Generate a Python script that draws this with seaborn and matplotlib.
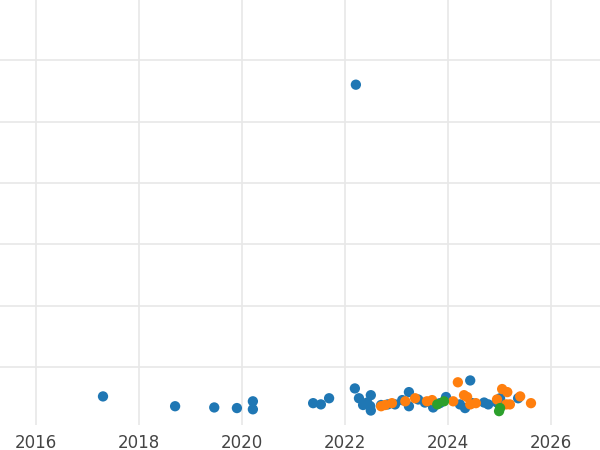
import matplotlib
matplotlib.use("Agg")
import matplotlib.pyplot as plt
import seaborn as sns
import pandas as pd

blue_year = [2017.30, 2018.70, 2019.46, 2019.90, 2020.21, 2020.21, 2021.38, 2021.53, 2021.69,
             2022.19, 2022.21, 2022.27, 2022.35, 2022.43, 2022.49, 2022.50, 2022.50, 2022.70,
             2022.83, 2022.97, 2023.11, 2023.24, 2023.24, 2023.42, 2023.55, 2023.71, 2023.84,
             2023.96, 2024.23, 2024.33, 2024.43, 2024.47, 2024.70, 2024.78, 2024.95, 2025.01,
             2025.36]
blue_val = [0.52, 0.36, 0.34, 0.33, 0.44, 0.31, 0.41, 0.39, 0.49,
            0.65, 5.60, 0.49, 0.38, 0.42, 0.36, 0.29, 0.54, 0.38,
            0.39, 0.39, 0.46, 0.59, 0.36, 0.47, 0.42, 0.34, 0.41,
            0.51, 0.39, 0.33, 0.78, 0.41, 0.42, 0.39, 0.42, 0.49,
            0.49]
orange_year = [2022.70, 2022.78, 2022.91, 2023.17, 2023.36, 2023.59, 2023.69, 2024.10, 2024.19,
               2024.31, 2024.37, 2024.43, 2024.54, 2024.95, 2025.05, 2025.13, 2025.15, 2025.20,
               2025.40, 2025.61]
orange_val = [0.36, 0.38, 0.41, 0.44, 0.49, 0.44, 0.46, 0.44, 0.75,
              0.54, 0.51, 0.39, 0.41, 0.47, 0.64, 0.39, 0.59, 0.39,
              0.52, 0.41]
green_year = [2023.79, 2023.92, 2024.99, 2025.01]
green_val = [0.39, 0.44, 0.28, 0.33]

df = pd.DataFrame({
    "year": blue_year + orange_year + green_year,
    "value": blue_val + orange_val + green_val,
    "group": ["a"] * len(blue_year) + ["b"] * len(orange_year) + ["c"] * len(green_year),
})

sns.set_theme(style="whitegrid")
fig = plt.figure(figsize=(6, 4.5), dpi=100)
ax = fig.add_axes([0, 0.055, 1, 0.945])
sns.scatterplot(data=df, x="year", y="value", hue="group", ax=ax,
                palette=["#1f77b4", "#ff7f0e", "#2ca02c"], s=55, edgecolor="none",
                legend=False)
ax.set_xlim(2015.3, 2026.95)
ax.set_ylim(0.05, 6.98)
ax.set_xticks([2016, 2018, 2020, 2022, 2024, 2026])
ax.set_yticks([1, 2, 3, 4, 5, 6])
ax.set_yticklabels([])
ax.tick_params(axis="x", labelsize=12, colors="#444444", pad=6, length=0)
ax.tick_params(axis="y", length=0)
ax.grid(color="#e8e8e8", linewidth=1.2)
ax.set_xlabel("")
ax.set_ylabel("")
for s in ax.spines.values():
    s.set_visible(False)
fig.savefig("out.png")
